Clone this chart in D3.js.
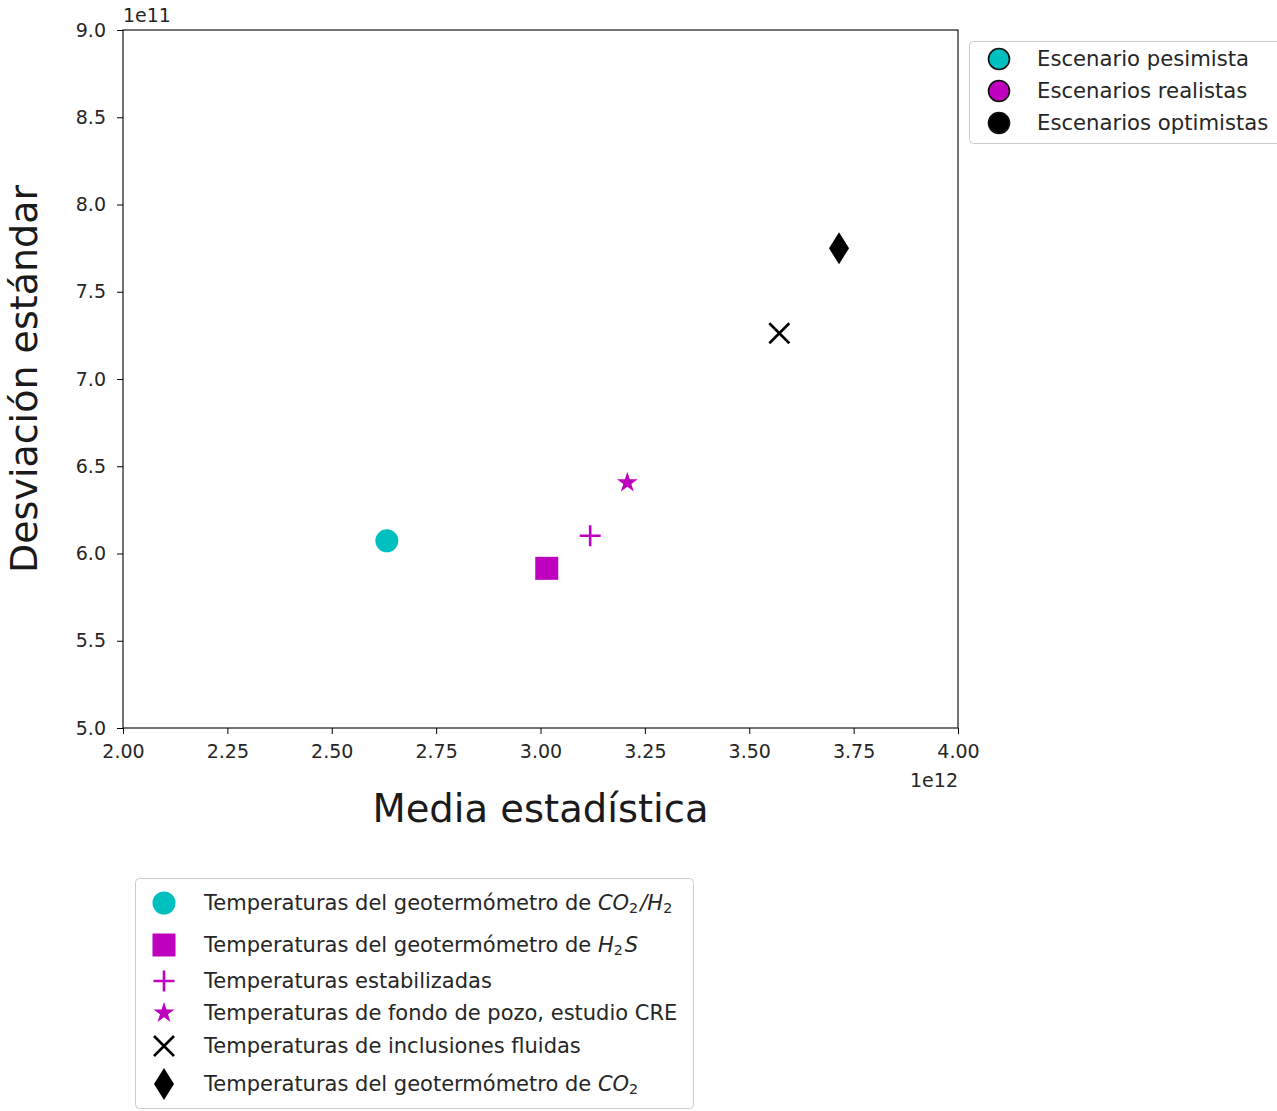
<!DOCTYPE html>
<html>
<head>
<meta charset="utf-8">
<script src="https://cdn.jsdelivr.net/npm/d3@7"></script>
<style>
  body { margin: 0; background: #fff; }
  svg { font-family: "DejaVu Sans", sans-serif; }
</style>
</head>
<body>
<div id="chart"></div>
<script>
// series
const seriesNames = [
  "geoCO2H2", "geoH2S", "estabilizadas", "fondoCRE", "inclusiones", "geoCO2"
]
const meanValues = [2.632e12, 3.015e12, 3.119e12, 3.208e12, 3.572e12, 3.715e12]
const stdValues = [6.073e11, 5.915e11, 6.102e11, 6.406e11, 7.262e11, 7.749e11]
const xTicks = [2.0e12, 2.25e12, 2.5e12, 2.75e12, 3.0e12, 3.25e12, 3.5e12, 3.75e12, 4.0e12]
const yTicks = [5.0e11, 5.5e11, 6.0e11, 6.5e11, 7.0e11, 7.5e11, 8.0e11, 8.5e11, 9.0e11]
const scenarioLabels = ["Escenario pesimista", "Escenarios realistas", "Escenarios optimistas"]
// legend labels: [plain text, math part]
const seriesLabels = [
  ["Temperaturas del geotermómetro de ", "CO2/H2"],
  ["Temperaturas del geotermómetro de ", "H2S"],
  ["Temperaturas estabilizadas", ""],
  ["Temperaturas de fondo de pozo, estudio CRE", ""],
  ["Temperaturas de inclusiones fluidas", ""],
  ["Temperaturas del geotermómetro de ", "CO2"]
]

const cyan = "#00bfbf", magenta = "#bf00bf"
const style = {
  geoCO2H2: { color: cyan, marker: "circle" },
  geoH2S: { color: magenta, marker: "square" },
  estabilizadas: { color: magenta, marker: "plus" },
  fondoCRE: { color: magenta, marker: "star" },
  inclusiones: { color: "#000", marker: "x" },
  geoCO2: { color: "#000", marker: "diamond" }
}
const scenarioColors = [cyan, magenta, "#000"]

const W = 1277, H = 1111
const plot = { left: 123, right: 958, top: 30, bottom: 728 }

const svg = d3.select("#chart").append("svg")
  .attr("width", W).attr("height", H)

const x = d3.scaleLinear().domain([2e12, 4e12]).range([plot.left, plot.right])
const y = d3.scaleLinear().domain([5e11, 9e11]).range([plot.bottom, plot.top])

// marker paths centred on 0,0
function markerPath(kind) {
  if (kind === "circle") return d3.symbol(d3.symbolCircle, Math.PI * 11.5 * 11.5)()
  if (kind === "square") return "M-11.5,-11.5H11.5V11.5H-11.5Z"
  if (kind === "plus") return "M-10.5,0H10.5M0,-10.5V10.5"
  if (kind === "x") return "M-10,-10L10,10M-10,10L10,-10"
  if (kind === "diamond") return "M0,-16L10,0L0,16L-10,0Z"
  if (kind === "star") {
    const R = 11, r = R * 0.382
    let pts = []
    for (let k = 0; k < 10; k++) {
      const a = -Math.PI / 2 + k * Math.PI / 5
      const rr = k % 2 === 0 ? R : r
      pts.push([rr * Math.cos(a), rr * Math.sin(a)])
    }
    return "M" + pts.map(p => p[0].toFixed(2) + "," + p[1].toFixed(2)).join("L") + "Z"
  }
}

function drawMarker(g, kind, color) {
  const stroked = kind === "plus" || kind === "x"
  g.append("path")
    .attr("d", markerPath(kind))
    .attr("fill", stroked ? "none" : color)
    .attr("stroke", stroked ? color : "none")
    .attr("stroke-width", stroked ? 2.6 : 0)
}

// axes frame
svg.append("rect")
  .attr("x", plot.left).attr("y", plot.top)
  .attr("width", plot.right - plot.left).attr("height", plot.bottom - plot.top)
  .attr("fill", "none").attr("stroke", "#000").attr("stroke-width", 1.1)

const xAxis = d3.axisBottom(x).tickValues(xTicks).tickSize(6).tickPadding(11)
  .tickFormat(d => (d / 1e12).toFixed(2))
svg.append("g").attr("transform", `translate(0,${plot.bottom})`).call(xAxis)
  .call(g => g.select(".domain").remove())
  .call(g => g.selectAll("text").attr("font-size", 19).attr("fill", "#262626")
    .attr("font-family", "DejaVu Sans"))

const yAxis = d3.axisLeft(y).tickValues(yTicks).tickSize(6).tickPadding(11)
  .tickFormat(d => (d / 1e11).toFixed(1))
svg.append("g").attr("transform", `translate(${plot.left},0)`).call(yAxis)
  .call(g => g.select(".domain").remove())
  .call(g => g.selectAll("text").attr("font-size", 19).attr("fill", "#262626")
    .attr("font-family", "DejaVu Sans"))

// offset labels
svg.append("text").attr("x", plot.left).attr("y", 22)
  .attr("font-size", 19).attr("fill", "#262626").text("1e11")
svg.append("text").attr("x", plot.right).attr("y", 787).attr("text-anchor", "end")
  .attr("font-size", 19).attr("fill", "#262626").text("1e12")

// axis titles
svg.append("text").attr("x", (plot.left + plot.right) / 2).attr("y", 822)
  .attr("text-anchor", "middle").attr("font-size", 38.5).attr("fill", "#1a1a1a")
  .text("Media estadística")
svg.append("text")
  .attr("transform", `translate(37,${(plot.top + plot.bottom) / 2}) rotate(-90)`)
  .attr("text-anchor", "middle").attr("font-size", 38).attr("fill", "#1a1a1a")
  .text("Desviación estándar")

// points
seriesNames.forEach((name, i) => {
  const g = svg.append("g")
    .attr("transform", `translate(${x(meanValues[i])},${y(stdValues[i])})`)
  drawMarker(g, style[name].marker, style[name].color)
})

// math label with italic letters and subscripts
function addMath(textSel, math) {
  const parts = math.match(/[A-Z]+|\d|\//g)
  parts.forEach(p => {
    if (/\d/.test(p)) {
      textSel.append("tspan").attr("font-size", "0.68em").attr("dy", 3).text(p)
      textSel.append("tspan").attr("dy", -3).text("\u200a")
    } else {
      textSel.append("tspan").attr("font-style", "italic").text(p)
    }
  })
}

// scenario legend (top right)
const leg1 = svg.append("g")
leg1.append("rect").attr("x", 969.5).attr("y", 41.5).attr("width", 320).attr("height", 102)
  .attr("rx", 4).attr("fill", "#fff").attr("stroke", "#cccccc")
scenarioLabels.forEach((lab, i) => {
  const cy = 59 + i * 32
  leg1.append("circle").attr("cx", 999).attr("cy", cy).attr("r", 10.5)
    .attr("fill", scenarioColors[i]).attr("stroke", "#111").attr("stroke-width", 1.6)
  leg1.append("text").attr("x", 1037).attr("y", cy + 7)
    .attr("font-size", 21.2).attr("fill", "#262626").text(lab)
})

// series legend (bottom)
const rowY = [903, 945, 981, 1013, 1046, 1084]
const leg2 = svg.append("g")
leg2.append("rect").attr("x", 135.5).attr("y", 878.5).attr("width", 558).attr("height", 230)
  .attr("rx", 4).attr("fill", "#fff").attr("stroke", "#cccccc")
seriesNames.forEach((name, i) => {
  const g = leg2.append("g").attr("transform", `translate(164,${rowY[i]})`)
  drawMarker(g, style[name].marker, style[name].color)
  const t = leg2.append("text").attr("x", 204).attr("y", rowY[i] + 7)
    .attr("font-size", 21).attr("fill", "#262626")
  t.append("tspan").text(seriesLabels[i][0])
  if (seriesLabels[i][1]) addMath(t, seriesLabels[i][1])
})
</script>
</body>
</html>
